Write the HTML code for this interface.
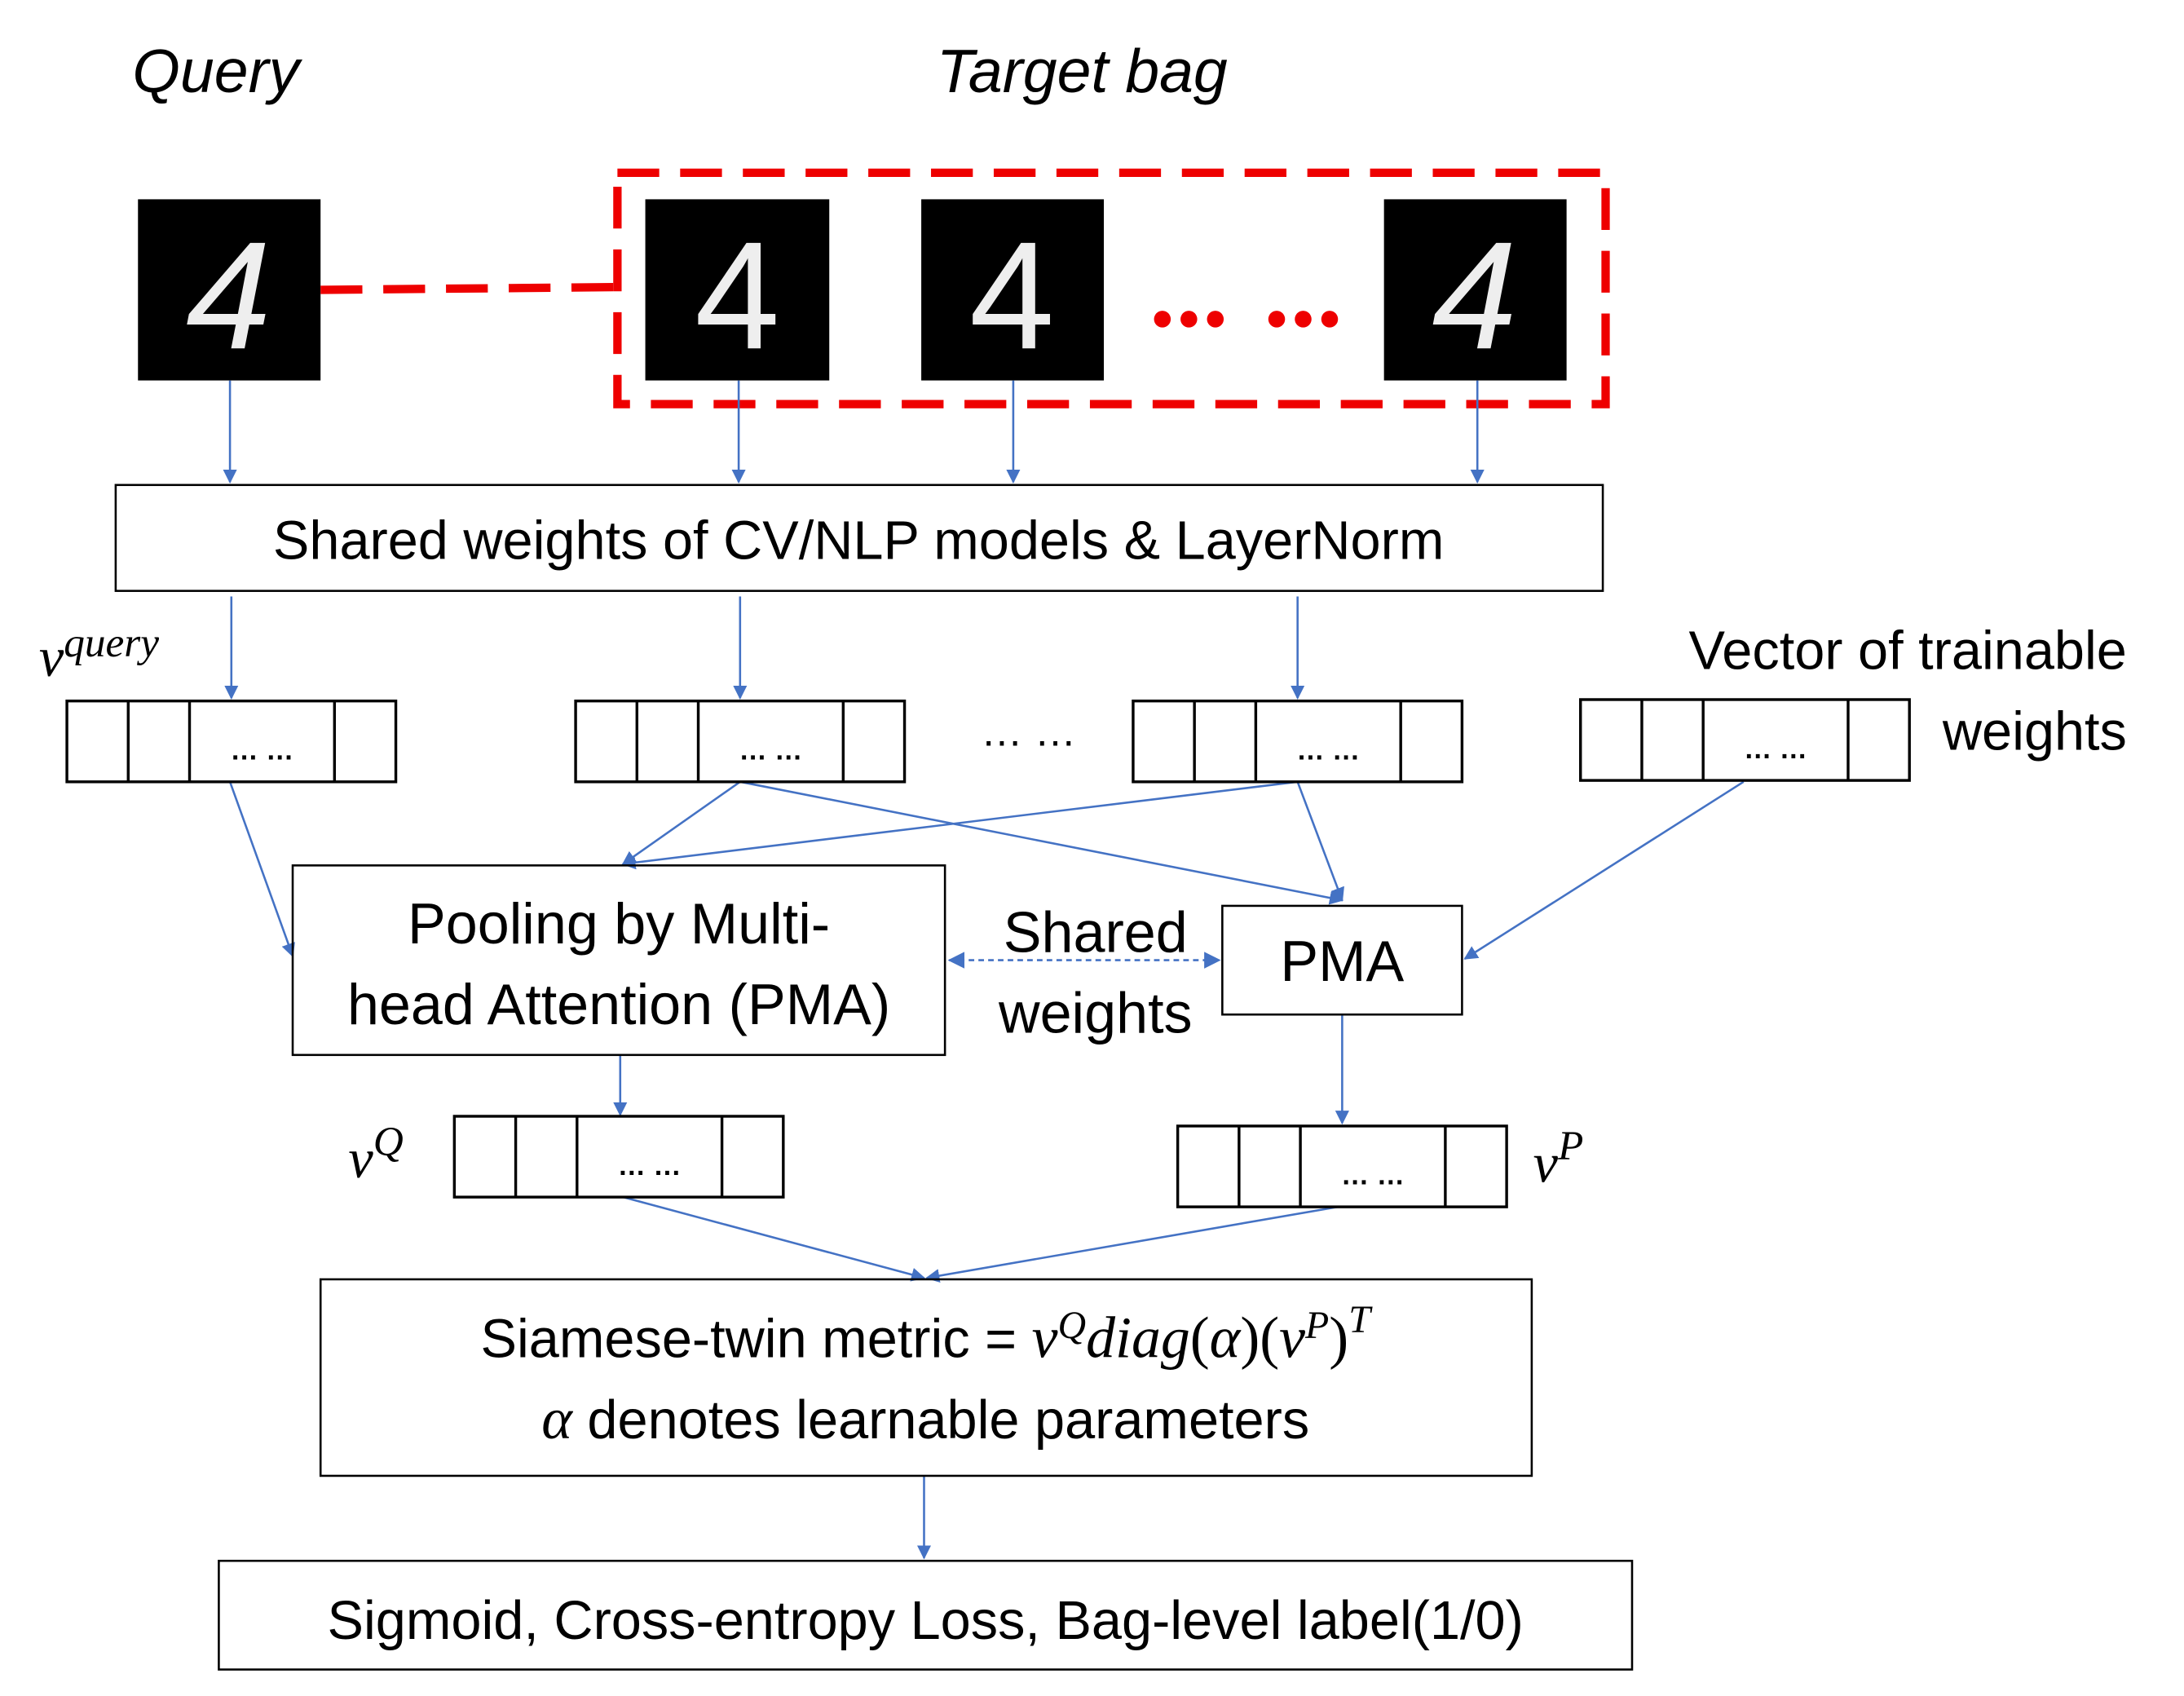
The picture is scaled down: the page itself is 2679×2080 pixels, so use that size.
<!DOCTYPE html>
<html><head><meta charset="utf-8"><style>
html,body{margin:0;padding:0;background:#fff;}
svg{display:block;}
text{font-family:"Liberation Sans","DejaVu Sans",sans-serif;fill:#000;}
.m{font-family:"Liberation Serif",serif;font-style:italic;}
</style></head><body>
<svg width="2679" height="2080" viewBox="0 0 1567 1217" preserveAspectRatio="none" xmlns="http://www.w3.org/2000/svg">
<defs>
<marker id="a" markerWidth="10" markerHeight="10" refX="9" refY="5" orient="auto" markerUnits="userSpaceOnUse">
<path d="M0,0 L10,5 L0,10 z" fill="#4472C4"/></marker>
<marker id="b" markerWidth="12" markerHeight="12" refX="11" refY="6" orient="auto-start-reverse" markerUnits="userSpaceOnUse">
<path d="M0,0 L12,6 L0,12 z" fill="#4472C4"/></marker>
</defs>
<text x="95" y="66" font-size="44" font-style="italic">Query</text>
<text x="672" y="66" font-size="44" font-style="italic">Target bag</text>

<g font-size="110" fill="#fff">
<rect x="99" y="143" width="131" height="130" fill="#000"/>
<text x="164" y="250" text-anchor="middle" style="fill:#eee" font-style="italic">4</text>
<rect x="463" y="143" width="132" height="130" fill="#000"/>
<text x="529" y="250" text-anchor="middle" style="fill:#eee">4</text>
<rect x="661" y="143" width="131" height="130" fill="#000"/>
<text x="726" y="250" text-anchor="middle" style="fill:#eee">4</text>
<rect x="993" y="143" width="131" height="130" fill="#000"/>
<text x="1058" y="250" text-anchor="middle" style="fill:#eee" font-style="italic">4</text>
</g>
<rect x="443" y="124" width="709" height="166" fill="none" stroke="#e00" stroke-width="6" stroke-dasharray="30,15"/>
<line x1="230" y1="208" x2="443" y2="206" stroke="#e00" stroke-width="6" stroke-dasharray="30,15"/>
<g fill="#e00">
<circle cx="834" cy="229" r="6"/><circle cx="853" cy="229" r="6"/><circle cx="872" cy="229" r="6"/>
<circle cx="916" cy="229" r="6"/><circle cx="935" cy="229" r="6"/><circle cx="954" cy="229" r="6"/>
</g>

<g stroke="#4472C4" stroke-width="1.5" fill="none" marker-end="url(#a)">
<line x1="165" y1="273" x2="165" y2="346"/>
<line x1="530" y1="273" x2="530" y2="346"/>
<line x1="727" y1="273" x2="727" y2="346"/>
<line x1="1060" y1="273" x2="1060" y2="346"/>
<line x1="166" y1="428" x2="166" y2="501"/>
<line x1="531" y1="428" x2="531" y2="501"/>
<line x1="931" y1="428" x2="931" y2="501"/>
<line x1="165" y1="561" x2="210" y2="686"/>
<line x1="531" y1="561" x2="447" y2="620"/>
<line x1="531" y1="561" x2="963" y2="646"/>
<line x1="931" y1="561" x2="447" y2="620"/>
<line x1="931" y1="561" x2="963" y2="646"/>
<line x1="1251" y1="561" x2="1051" y2="688"/>
<line x1="445" y1="757" x2="445" y2="800"/>
<line x1="963" y1="728" x2="963" y2="806"/>
<line x1="447" y1="859" x2="663" y2="917"/>
<line x1="960" y1="866" x2="665" y2="917"/>
<line x1="663" y1="1059" x2="663" y2="1118"/>
</g>
<line x1="681" y1="689" x2="875" y2="689" stroke="#4472C4" stroke-width="1.5" stroke-dasharray="4,3" marker-start="url(#b)" marker-end="url(#b)"/>

<g fill="none" stroke="#000" stroke-width="1.5">
<rect x="83" y="348" width="1067" height="76"/>
<rect x="210" y="621" width="468" height="136"/>
<rect x="877" y="650" width="172" height="78"/>
<rect x="230" y="918" width="869" height="141"/>
<rect x="157" y="1120" width="1014" height="78"/>
</g>
<g fill="none" stroke="#000" stroke-width="2">
<rect x="48" y="503" width="236" height="58"/><path d="M92,503V561M136,503V561M240,503V561"/>
<rect x="413" y="503" width="236" height="58"/><path d="M457,503V561M501,503V561M605,503V561"/>
<rect x="813" y="503" width="236" height="58"/><path d="M857,503V561M901,503V561M1005,503V561"/>
<rect x="1134" y="502" width="236" height="58"/><path d="M1178,502V560M1222,502V560M1326,502V560"/>
<rect x="326" y="801" width="236" height="58"/><path d="M370,801V859M414,801V859M518,801V859"/>
<rect x="845" y="808" width="236" height="58"/><path d="M889,808V866M933,808V866M1037,808V866"/>
</g>
<g font-size="20" font-weight="bold" text-anchor="middle">
<text x="188" y="545">… …</text>
<text x="553" y="545">… …</text>
<text x="953" y="545">… …</text>
<text x="1274" y="544">… …</text>
<text x="466" y="843">… …</text>
<text x="985" y="850">… …</text>
</g>
<text x="738" y="535" font-size="30" text-anchor="middle">… …</text>

<text x="616" y="401" font-size="39" text-anchor="middle">Shared weights of CV/NLP models &amp; LayerNorm</text>
<text x="1526" y="480" font-size="39" text-anchor="end">Vector of trainable</text>
<text x="1526" y="538" font-size="39" text-anchor="end">weights</text>
<text x="444" y="677" font-size="41" text-anchor="middle">Pooling by Multi-</text>
<text x="444" y="735" font-size="41" text-anchor="middle">head Attention (PMA)</text>
<text x="963" y="704" font-size="41" text-anchor="middle">PMA</text>
<text x="786" y="683" font-size="41" text-anchor="middle">Shared</text>
<text x="786" y="741" font-size="41" text-anchor="middle">weights</text>

<text x="28" y="485" font-size="40" class="m">v<tspan font-size="30" dy="-14">query</tspan></text>
<text x="250" y="845" font-size="40" class="m">v<tspan font-size="30" dy="-16">Q</tspan></text>
<text x="1100" y="848" font-size="40" class="m">v<tspan font-size="30" dy="-16">P</tspan></text>

<text x="664" y="974" font-size="39" text-anchor="middle">Siamese-twin metric = <tspan class="m" font-size="42">v</tspan><tspan class="m" font-size="28" dy="-14">Q</tspan><tspan class="m" font-size="42" dy="14">diag</tspan><tspan font-size="42" font-family="Liberation Serif">(</tspan><tspan class="m" font-size="42">α</tspan><tspan font-size="42" font-family="Liberation Serif">)(</tspan><tspan class="m" font-size="42">v</tspan><tspan class="m" font-size="28" dy="-14">P</tspan><tspan font-size="42" dy="14" font-family="Liberation Serif">)</tspan><tspan class="m" font-size="28" dy="-18">T</tspan></text>
<text x="664" y="1032" font-size="39" text-anchor="middle"><tspan class="m" font-size="42">α</tspan> denotes learnable parameters</text>
<text x="664" y="1176" font-size="39" text-anchor="middle">Sigmoid, Cross-entropy Loss, Bag-level label(1/0)</text>
</svg>
</body></html>
